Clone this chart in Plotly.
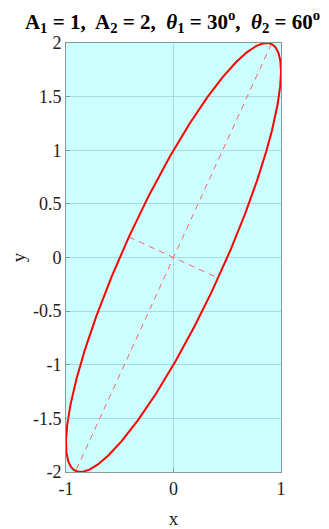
import numpy as np
import plotly.graph_objects as go

A1 = 1.0
A2 = 2.0
theta1_deg = 30.0
theta2_deg = 60.0
x_ticks = [-1, 0, 1]
y_ticks = [-2, -1.5, -1, -0.5, 0, 0.5, 1, 1.5, 2]

t = np.linspace(0, 2 * np.pi, 721)
th1 = np.deg2rad(theta1_deg)
th2 = np.deg2rad(theta2_deg)
x = A1 * np.cos(t + th1)
y = A2 * np.cos(t + th2)
r = np.hypot(x, y)
imax = int(np.argmax(r))
imin = int(np.argmin(r))

fig = go.Figure()
fig.add_trace(go.Scatter(x=[-x[imax], x[imax]], y=[-y[imax], y[imax]], mode="lines",
                         line=dict(color="#ff6060", width=1, dash="6px,5px"), showlegend=False))
fig.add_trace(go.Scatter(x=[-x[imin], x[imin]], y=[-y[imin], y[imin]], mode="lines",
                         line=dict(color="#ff6060", width=1, dash="6px,5px"), showlegend=False))
fig.add_trace(go.Scatter(x=x, y=y, mode="lines", line=dict(color="#ff0000", width=2),
                         showlegend=False))

font = "Liberation Serif, Times New Roman, serif"
axis_common = dict(showline=True, linecolor="#8a9898", linewidth=1, mirror=True,
                   ticks="inside", ticklen=4, tickcolor="#8a9898",
                   showgrid=True, gridcolor="#a6dede", gridwidth=1, zeroline=False,
                   automargin=False,
                   tickfont=dict(family=font, size=18, color="#222222"))
fig.update_layout(
    width=329, height=529,
    margin=dict(l=58, r=56, t=35, b=65),
    paper_bgcolor="white", plot_bgcolor="#ccffff",
    title=dict(text="<b>A<sub>1</sub> = 1,  A<sub>2</sub> = 2,  <i>θ</i><sub>1</sub> = 30<sup>o</sup>,  <i>θ</i><sub>2</sub> = 60<sup>o</sup></b>",
               x=0.5, xanchor="center", y=0.988, yanchor="top",
               font=dict(family=font, size=21, color="black")),
    xaxis=dict(range=[-1, 1], tickvals=x_ticks, ticktext=[str(v) for v in x_ticks],
               title=dict(text="x", font=dict(family=font, size=19, color="#222222"), standoff=14),
               **axis_common),
    yaxis=dict(range=[-2, 2], tickvals=y_ticks, ticktext=[f"{v:g}" for v in y_ticks],
               title=dict(text="y", font=dict(family=font, size=19, color="#222222"), standoff=12),
               **axis_common),
)
fig.write_html("out.html")
